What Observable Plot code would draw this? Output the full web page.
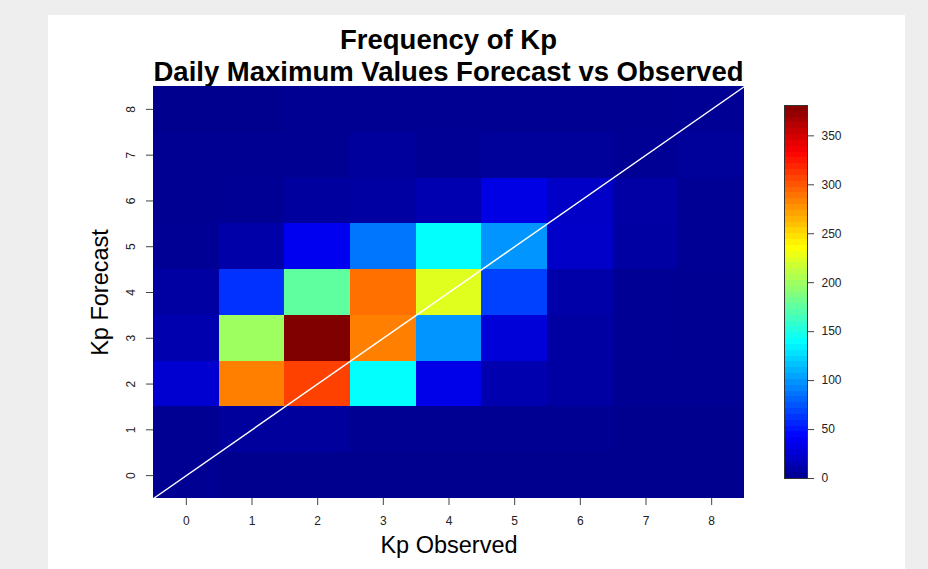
<!DOCTYPE html>
<html>
<head>
<meta charset="utf-8">
<script src="https://cdn.jsdelivr.net/npm/d3@7"></script>
<script src="https://cdn.jsdelivr.net/npm/@observablehq/plot@0.6"></script>
<style>
html, body { margin: 0; padding: 0; background: #eeeeee; width: 928px; height: 569px; overflow: hidden;
  font-family: "Liberation Sans", Arial, sans-serif; }
#panel { position: absolute; left: 48px; top: 15px; width: 857px; height: 554px; background: #ffffff; }
.title { position: absolute; left: 105px; width: 591px; text-align: center; font-weight: bold;
  font-size: 27.5px; line-height: 28px; color: #000; white-space: nowrap; }
#heat { position: absolute; left: 0; top: 66px; }
#bar { position: absolute; left: 722px; top: 80px; }
</style>
</head>
<body>
<div id="panel">
  <div class="title" style="top:11px">Frequency of Kp</div>
  <div class="title" style="top:43px">Daily Maximum Values Forecast vs Observed</div>
  <div id="heat"></div>
  <div id="bar"></div>
</div>
<script>
// Kp levels on each axis
const kpObserved = [0, 1, 2, 3, 4, 5, 6, 7, 8];
const kpForecast = [0, 1, 2, 3, 4, 5, 6, 7, 8];

// Counts per forecast level, across observed Kp 0..8
const forecast0 = [1, 0, 0, 0, 0, 0, 0, 0, 0];
const forecast1 = [1, 5, 5, 1, 1, 1, 1, 0, 0];
const forecast2 = [25, 284, 308, 140, 34, 12, 7, 1, 1];
const forecast3 = [12, 199, 381, 284, 99, 28, 7, 2, 1];
const forecast4 = [7, 61, 175, 290, 224, 67, 10, 2, 1];
const forecast5 = [2, 10, 37, 87, 140, 99, 22, 7, 2];
const forecast6 = [1, 2, 6, 7, 13, 32, 21, 8, 2];
const forecast7 = [1, 1, 1, 5, 2, 4, 4, 2, 4];
const forecast8 = [0, 0, 1, 1, 1, 1, 1, 1, 2];
const countRows = [forecast0, forecast1, forecast2, forecast3, forecast4, forecast5, forecast6, forecast7, forecast8];

// Colour legend tick labels
const legendTicks = [0, 50, 100, 150, 200, 250, 300, 350];

// tim.colors-like jet palette
const jetColors = ["#00008F", "#0000FF", "#00FFFF", "#FFFF00", "#FF0000", "#800000"];
const jetStops = [0, 7 / 63, 23 / 63, 39 / 63, 55 / 63, 1];

const cells = kpForecast.flatMap((f, i) =>
  kpObserved.map((o, j) => ({observed: o, forecast: f, count: countRows[i][j]})));
const minCount = d3.min(cells, d => d.count);
const maxCount = d3.max(cells, d => d.count);

const colorScale = {
  type: "linear",
  domain: jetStops.map(t => minCount + t * (maxCount - minCount)),
  range: jetColors,
  interpolate: "rgb",
  clamp: true
};

const xDomain = [d3.min(kpObserved) - 0.5, d3.max(kpObserved) + 0.5];
const yDomain = [d3.min(kpForecast) - 0.5, d3.max(kpForecast) + 0.5];
const diagonal = [Math.min(xDomain[0], yDomain[0]), Math.max(xDomain[1], yDomain[1])];

const fontStyle = {fontFamily: "'Liberation Sans', Arial, sans-serif", fontSize: "12px", color: "#222", background: "transparent", overflow: "visible"};

const heat = Plot.plot({
  width: 857, height: 488,
  marginTop: 5, marginBottom: 71, marginLeft: 105, marginRight: 161,
  style: fontStyle,
  x: {domain: xDomain},
  y: {domain: yDomain},
  color: colorScale,
  marks: [
    Plot.rect(cells, {
      x1: d => d.observed - 0.5, x2: d => d.observed + 0.5,
      y1: d => d.forecast - 0.5, y2: d => d.forecast + 0.5,
      fill: "count", inset: 0, shapeRendering: "crispEdges"
    }),
    Plot.line(diagonal, {x: d => d, y: d => d, stroke: "white", strokeWidth: 1.5}),
    Plot.axisX({ticks: kpObserved, tickSize: 7, tickPadding: 11, label: null, stroke: "#444"}),
    Plot.axisY({ticks: kpForecast, tickSize: 7, tickPadding: 12, tickRotate: -90, label: null, stroke: "#444"}),
    Plot.text(["Kp Observed"], {frameAnchor: "bottom", lineAnchor: "middle", textAnchor: "middle", dy: 47, fontSize: 23.5, fill: "#000"}),
    Plot.text(["Kp Forecast"], {frameAnchor: "left", lineAnchor: "middle", textAnchor: "middle", dx: -53, rotate: -90, fontSize: 23.5, fill: "#000"})
  ]
});
document.getElementById("heat").appendChild(heat);

const nBins = 64;
const legendBins = d3.range(nBins).map(i => {
  const step = (maxCount - minCount) / nBins;
  return {lo: minCount + i * step, hi: minCount + (i + 1) * step, v: minCount + (i + 0.5) * step};
});

const bar = Plot.plot({
  width: 100, height: 393,
  marginTop: 10, marginBottom: 10, marginLeft: 14, marginRight: 63,
  style: fontStyle,
  x: {domain: [0, 1], axis: null},
  y: {domain: [minCount, maxCount]},
  color: colorScale,
  marks: [
    Plot.rect(legendBins, {x1: () => 0, x2: () => 1, y1: "lo", y2: "hi", fill: "v", shapeRendering: "crispEdges"}),
    Plot.frame({stroke: "#333"}),
    Plot.axisY({anchor: "right", ticks: legendTicks, tickSize: 6, tickPadding: 8, label: null, stroke: "#444"})
  ]
});
document.getElementById("bar").appendChild(bar);
</script>
</body>
</html>
